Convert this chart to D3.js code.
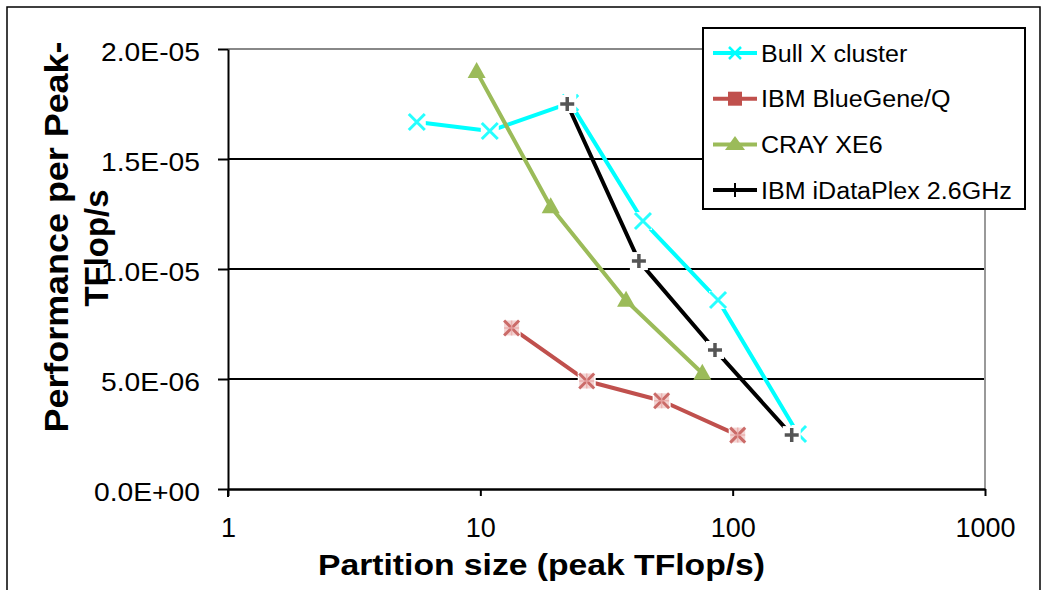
<!DOCTYPE html>
<html><head><meta charset="utf-8">
<script src="https://cdn.jsdelivr.net/npm/d3@7"></script>
<style>body{margin:0;background:#fff}svg{display:block}text{font-family:"Liberation Sans",Arial,sans-serif}</style>
</head><body>
<svg id="c" width="1046" height="590"></svg>
<script>
// ---- data ----
const seriesNames = ["Bull X cluster", "IBM BlueGene/Q", "CRAY XE6", "IBM iDataPlex 2.6GHz"];
const bullX  = [5.6, 10.9, 22.7, 44.1, 87.5, 181.6];
const bullY  = [1.668e-5, 1.627e-5, 1.755e-5, 1.218e-5, 0.859e-5, 0.250e-5];
const bgqX   = [13.3, 26.4, 52.3, 104.7];
const bgqY   = [0.732e-5, 0.491e-5, 0.401e-5, 0.245e-5];
const crayX  = [9.67, 19.0, 37.8, 75.8];
const crayY  = [1.897e-5, 1.283e-5, 0.857e-5, 0.526e-5];
const idpX   = [22.1, 42.5, 85.1, 171.4];
const idpY   = [1.750e-5, 1.036e-5, 0.632e-5, 0.245e-5];
const xTicks = [1, 10, 100, 1000];
const xTickLabels = ["1", "10", "100", "1000"];
const yTicks = [0, 5e-6, 1e-5, 1.5e-5, 2e-5];
const yTickLabels = ["0.0E+00", "5.0E-06", "1.0E-05", "1.5E-05", "2.0E-05"];
const xTitle = "Partition size (peak TFlop/s)";
const yTitle1 = "Performance per Peak-";
const yTitle2 = "TFlop/s";

// ---- layout ----
const svg = d3.select("#c");
svg.append("rect").attr("x",0).attr("y",0).attr("width",1046).attr("height",590).attr("fill","#fff");
svg.append("rect").attr("x",7).attr("y",7).attr("width",1033).attr("height",600)
  .attr("fill","none").attr("stroke","#000").attr("stroke-width",1.5);

const x = d3.scaleLog().domain([1,1000]).range([228,985]);
const y = d3.scaleLinear().domain([0,2e-5]).range([489,49]);

// gridlines
svg.append("g").selectAll("line").data(yTicks.filter(d=>d>0 && d<2e-5)).join("line")
  .attr("x1",x(1)).attr("x2",x(1000)).attr("y1",d=>y(d)).attr("y2",d=>y(d))
  .attr("stroke","#000").attr("stroke-width",2);
// plot border (gray) top and right
svg.append("line").attr("x1",x(1)).attr("x2",x(1000)).attr("y1",y(2e-5)).attr("y2",y(2e-5))
  .attr("stroke","#888").attr("stroke-width",2);
svg.append("line").attr("x1",x(1000)).attr("x2",x(1000)).attr("y1",y(2e-5)).attr("y2",y(0))
  .attr("stroke","#999").attr("stroke-width",2);

// y axis
const yAxis = svg.append("g").attr("transform",`translate(${x(1)},0)`)
  .call(d3.axisLeft(y).tickValues(yTicks).tickFormat((d,i)=>yTickLabels[i]).tickSize(10).tickPadding(18).tickSizeOuter(0));
yAxis.select(".domain").attr("stroke","#000").attr("stroke-width",2);
yAxis.selectAll(".tick line").attr("stroke","#000").attr("stroke-width",2);
yAxis.selectAll("text").attr("font-size",25).attr("fill","#000").attr("dy","0.47em")
  .each(function(){ const w=this.getComputedTextLength(); d3.select(this).attr("textLength",w*1.13).attr("lengthAdjust","spacingAndGlyphs"); });
svg.append("line").attr("x1",x(1)).attr("x2",x(1)).attr("y1",y(0)).attr("y2",y(0)+8).attr("stroke","#000").attr("stroke-width",2);

// x axis
const xAxis = svg.append("g").attr("transform",`translate(0,${y(0)})`)
  .call(d3.axisBottom(x).tickValues(xTicks).tickFormat((d,i)=>xTickLabels[i]).tickSize(7).tickPadding(22).tickSizeOuter(0));
xAxis.select(".domain").attr("stroke","#000").attr("stroke-width",2.5);
xAxis.selectAll(".tick line").attr("stroke","#000").attr("stroke-width",2);
xAxis.selectAll("text").attr("font-size",27).attr("fill","#000");

// titles
svg.append("text").attr("x",318).attr("y",575).attr("font-size",29).attr("font-weight","bold")
  .attr("textLength",447).attr("lengthAdjust","spacingAndGlyphs").text(xTitle);
svg.append("text").attr("transform","translate(68,237) rotate(-90)").attr("text-anchor","middle")
  .attr("font-size",33).attr("font-weight","bold").attr("textLength",391).attr("lengthAdjust","spacingAndGlyphs").text(yTitle1);
svg.append("text").attr("transform","translate(108,248) rotate(-90)").attr("text-anchor","middle")
  .attr("font-size",33).attr("font-weight","bold").attr("textLength",117).attr("lengthAdjust","spacingAndGlyphs").text(yTitle2);

// ---- series ----
const line = d3.line().x(d=>x(d[0])).y(d=>y(d[1]));
function zip(a,b){return a.map((v,i)=>[v,b[i]]);}
function drawX(g,cx,cy,r,col,sw,op){
  g.append("path").attr("d",`M${cx-r},${cy-r}L${cx+r},${cy+r}M${cx-r},${cy+r}L${cx+r},${cy-r}`)
    .attr("stroke",col).attr("stroke-width",sw).attr("fill","none").attr("opacity",op||1);
}
function drawStar(g,cx,cy,r,col){
  g.append("rect").attr("x",cx-r).attr("y",cy-r).attr("width",2*r).attr("height",2*r).attr("fill","#f3d4d3");
  g.append("path").attr("d",`M${cx-r},${cy-r}L${cx+r},${cy+r}M${cx-r},${cy+r}L${cx+r},${cy-r}`)
    .attr("stroke",col).attr("stroke-width",3).attr("fill","none").attr("opacity",0.8);
  g.append("path").attr("d",`M${cx},${cy-r}L${cx},${cy+r}M${cx-r},${cy}L${cx+r},${cy}`)
    .attr("stroke","#e8a9a7").attr("stroke-width",1.5).attr("fill","none").attr("opacity",0.8);
}
function drawPlus(g,cx,cy,r,col,sw){
  g.append("path").attr("d",`M${cx-r},${cy}L${cx+r},${cy}M${cx},${cy-r}L${cx},${cy+r}`)
    .attr("stroke",col).attr("stroke-width",sw).attr("fill","none");
}
function drawTri(g,cx,cy,w,h,col){
  g.append("path").attr("d",`M${cx},${cy-h*0.6}L${cx+w/2},${cy+h*0.4}L${cx-w/2},${cy+h*0.4}Z`).attr("fill",col);
}
function whiteBox(g,cx,cy,s){
  g.append("rect").attr("x",cx-s/2).attr("y",cy-s/2).attr("width",s).attr("height",s).attr("fill","#fff");
}

const gS = svg.append("g");
// Bull X
{
  const pts = zip(bullX,bullY);
  gS.append("path").attr("d",line(pts)).attr("fill","none").attr("stroke","#00FFFF").attr("stroke-width",4).attr("stroke-linejoin","round");
  pts.forEach(p=>{ whiteBox(gS,x(p[0]),y(p[1]),18); drawX(gS,x(p[0]),y(p[1]),8,"#00FFFF",3,0.85); });
}
// BlueGene/Q
{
  const pts = zip(bgqX,bgqY);
  gS.append("path").attr("d",line(pts)).attr("fill","none").attr("stroke","#C0504D").attr("stroke-width",4).attr("stroke-linejoin","round");
  pts.forEach(p=>{ whiteBox(gS,x(p[0]),y(p[1]),18); drawStar(gS,x(p[0]),y(p[1]),7.5,"#C0504D"); });
}
// CRAY
{
  const pts = zip(crayX,crayY);
  gS.append("path").attr("d",line(pts)).attr("fill","none").attr("stroke","#9BBB59").attr("stroke-width",4).attr("stroke-linejoin","round");
  pts.forEach(p=>{ drawTri(gS,x(p[0]),y(p[1]),18,16,"#9BBB59"); });
}
// iDataPlex
{
  const pts = zip(idpX,idpY);
  gS.append("path").attr("d",line(pts)).attr("fill","none").attr("stroke","#000").attr("stroke-width",4).attr("stroke-linejoin","round");
  pts.forEach(p=>{ whiteBox(gS,x(p[0]),y(p[1]),18); drawPlus(gS,x(p[0]),y(p[1]),7,"#555",3.5); });
}

// ---- legend ----
const lg = svg.append("g");
lg.append("rect").attr("x",703).attr("y",28).attr("width",322).attr("height",181)
  .attr("fill","#fff").attr("stroke","#000").attr("stroke-width",2);
const colors = ["#00FFFF","#C0504D","#9BBB59","#000"];
seriesNames.forEach((name,i)=>{
  const cy = 53 + i*45.7;
  lg.append("line").attr("x1",713).attr("x2",757).attr("y1",cy).attr("y2",cy).attr("stroke",colors[i]).attr("stroke-width",4);
  if(i===0) drawX(lg,735,cy,6,colors[0],2.5,1);
  if(i===1) lg.append("rect").attr("x",735-7).attr("y",cy-7).attr("width",14).attr("height",14).attr("fill",colors[1]);
  if(i===2) drawTri(lg,735,cy,20,14,colors[2]);
  if(i===3) drawPlus(lg,735,cy,7,"#000",2);
  const t = lg.append("text").attr("x",761).attr("y",cy+8.5).attr("font-size",23).attr("fill","#000").text(name);
  const w = t.node().getComputedTextLength();
  t.attr("textLength",w*1.09).attr("lengthAdjust","spacingAndGlyphs");
});
</script>
</body></html>
